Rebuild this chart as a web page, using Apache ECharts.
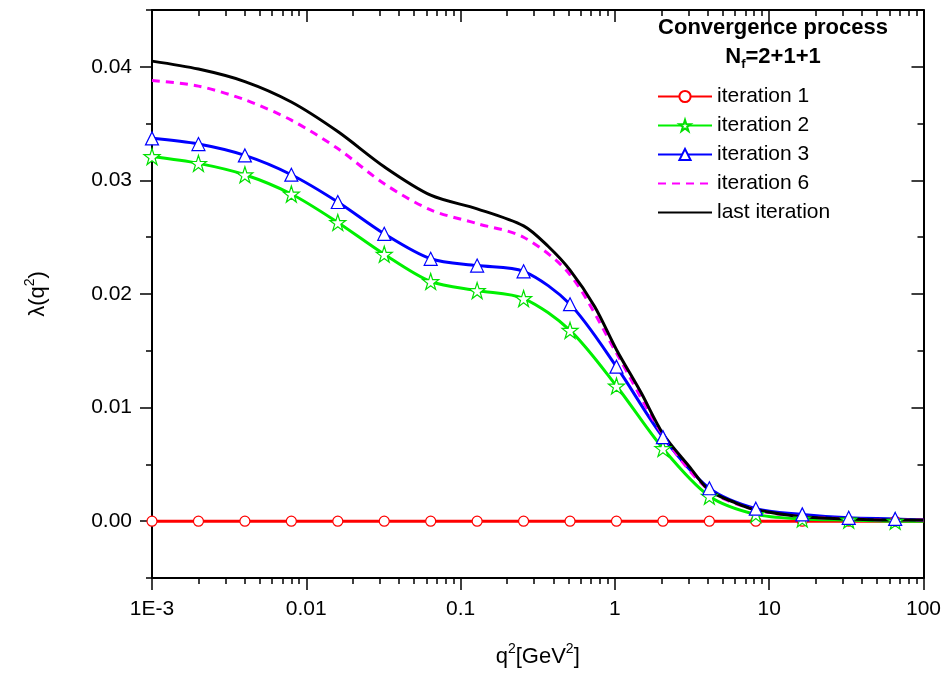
<!DOCTYPE html>
<html>
<head>
<meta charset="utf-8">
<script src="https://cdn.jsdelivr.net/npm/echarts@6/dist/echarts.min.js"></script>
<style>html,body{margin:0;padding:0;background:#fff}#c{width:944px;height:677px}</style>
</head>
<body>
<div id="c"></div>
<script>
// q^2 grid of the marked points (GeV^2), last entry is the axis end
const qGrid = [0.001,0.002,0.004,0.008,0.016,0.032,0.064,0.128,0.256,0.512,1.024,2.048,4.096,8.192,16.384,32.768,65.536,100];
const iter1 = [0,0,0,0,0,0,0,0,0,0,0,0,0,0,0,0,0,0];
const iter2 = [0.0321,0.0315,0.0305,0.0288,0.0263,0.0235,0.0211,0.0203,0.0196,0.0168,0.0119,0.0064,0.0022,0.0006,0.0002,0.0001,0.0000,0.0000];
const iter3 = [0.0337,0.0332,0.0322,0.0305,0.0281,0.0253,0.0231,0.0225,0.0220,0.0191,0.0136,0.0074,0.0029,0.0011,0.0006,0.0003,0.0002,0.0001];
const iter6 = [0.0388,0.0383,0.0371,0.0353,0.0328,0.0297,0.0274,0.0262,0.0250,0.0217,0.0148,0.0076,0.0027,0.0010,0.0004,0.0002,0.0001,0.0001];
const qLast = [0.001,0.002,0.004,0.008,0.016,0.032,0.064,0.128,0.256,0.369,0.512,0.739,1.024,1.48,2.048,3.04,4.096,6.09,8.192,16.384,32.768,65.536,100];
const iterLast = [0.0405,0.0398,0.0387,0.0369,0.0343,0.0312,0.0287,0.0275,0.0260,0.0242,0.0221,0.0189,0.0151,0.0113,0.0077,0.0048,0.0027,0.0016,0.0010,0.0004,0.0002,0.0001,0.0001];
const seriesNames = ['iteration 1','iteration 2','iteration 3','iteration 6','last iteration'];
const yMajor = [0,0.01,0.02,0.03,0.04];
const yMinor = [-0.005,0.005,0.015,0.025,0.035,0.045];
const xMinor = [];
[0.001,0.01,0.1,1,10].forEach(d => { for (let k = 2; k <= 9; k++) xMinor.push(+(d*k).toPrecision(3)); });

const FONT = '"Liberation Sans", Arial, sans-serif';
const STAR = 'path://M50,2 L61.8,37.6 L99,37.6 L68.9,59.6 L80.4,95.1 L50,73.2 L19.6,95.1 L31.1,59.6 L1,37.6 L38.2,37.6 Z';

function pairs(xs, ys, markedCount) {
  return xs.map((x, i) => i < markedCount ? [x, ys[i]] : {value: [x, ys[i]], symbol: 'none'});
}

function xLabel(v) {
  const e = Math.round(Math.log10(v));
  if (e === -3) return '1E-3';
  if (e < 0) return (Math.pow(10, e)).toFixed(-e);
  return String(Math.pow(10, e));
}

const axisLine = {show: true, onZero: false, lineStyle: {color: '#000', width: 2}};
const noLine = {show: false, onZero: false};
const chart = echarts.init(document.getElementById('c'), null, {renderer: 'canvas'});
chart.setOption({
  backgroundColor: '#fff',
  animation: false,
  textStyle: {fontFamily: FONT},
  grid: {left: 152, right: 19, top: 10, bottom: 99},
  graphic: [{
    type: 'text', x: 773, y: 13, z: 100,
    style: {
      text: '{t|Convergence process}\n{t|N}{s|f}{t|=2+1+1}',
      align: 'center', verticalAlign: 'top', fontFamily: FONT,
      rich: {
        t: {fontSize: 22, fontWeight: 'bold', lineHeight: 29, fontFamily: FONT, fill: '#000'},
        s: {fontSize: 13, fontWeight: 'bold', lineHeight: 12, verticalAlign: 'bottom', fontFamily: FONT, fill: '#000'}
      }
    }
  }],
  legend: {
    orient: 'vertical', left: 652, top: 81,
    itemWidth: 54, itemHeight: 14, itemGap: 8,
    textStyle: {fontSize: 21, color: '#000', fontFamily: FONT},
    data: [
      {name: seriesNames[0]}, {name: seriesNames[1]}, {name: seriesNames[2]},
      {name: seriesNames[3], itemStyle: {opacity: 0}},
      {name: seriesNames[4], itemStyle: {opacity: 0}}
    ]
  },
  xAxis: [
    {type: 'log', logBase: 10, min: 0.001, max: 100, position: 'bottom',
     axisLine: axisLine, axisTick: {show: true, inside: false, length: 12, lineStyle: {color: '#000', width: 1.5}},
     axisLabel: {formatter: xLabel, fontSize: 21, color: '#000', margin: 21, fontFamily: FONT},
     splitLine: {show: false},
     name: '{a|q}{b|2}{a|[GeV}{b|2}{a|]}', nameLocation: 'middle', nameGap: 64,
     nameTextStyle: {rich: {a: {fontSize: 22, lineHeight: 30, color: '#000', fontFamily: FONT}, b: {fontSize: 14, lineHeight: 14, verticalAlign: 'top', color: '#000', fontFamily: FONT}}}},
    {type: 'log', logBase: 10, min: 0.001, max: 100, position: 'bottom',
     axisLine: noLine, axisLabel: {show: false}, splitLine: {show: false},
     axisTick: {show: true, inside: false, length: 6, customValues: xMinor, lineStyle: {color: '#000', width: 1.5}}},
    {type: 'log', logBase: 10, min: 0.001, max: 100, position: 'top',
     axisLine: axisLine, axisLabel: {show: false}, splitLine: {show: false},
     axisTick: {show: true, inside: true, length: 12, lineStyle: {color: '#000', width: 1.5}}},
    {type: 'log', logBase: 10, min: 0.001, max: 100, position: 'top',
     axisLine: noLine, axisLabel: {show: false}, splitLine: {show: false},
     axisTick: {show: true, inside: true, length: 6, customValues: xMinor, lineStyle: {color: '#000', width: 1.5}}}
  ],
  yAxis: [
    {type: 'value', min: -0.005, max: 0.045, position: 'left',
     axisLine: axisLine, splitLine: {show: false},
     axisTick: {show: true, inside: false, length: 12, customValues: yMajor, lineStyle: {color: '#000', width: 1.5}},
     axisLabel: {customValues: yMajor, formatter: v => v.toFixed(2), fontSize: 21, color: '#000', margin: 20, fontFamily: FONT},
     name: '{a|λ(q}{b|2}{a|)}', nameLocation: 'middle', nameGap: 99,
     nameTextStyle: {rich: {a: {fontSize: 22, lineHeight: 30, color: '#000', fontFamily: FONT}, b: {fontSize: 14, lineHeight: 14, verticalAlign: 'top', color: '#000', fontFamily: FONT}}}},
    {type: 'value', min: -0.005, max: 0.045, position: 'left',
     axisLine: noLine, splitLine: {show: false}, axisLabel: {show: false},
     axisTick: {show: true, inside: false, length: 6, customValues: yMinor, lineStyle: {color: '#000', width: 1.5}}},
    {type: 'value', min: -0.005, max: 0.045, position: 'right',
     axisLine: axisLine, splitLine: {show: false}, axisLabel: {show: false},
     axisTick: {show: true, inside: true, length: 12, customValues: yMajor, lineStyle: {color: '#000', width: 1.5}}},
    {type: 'value', min: -0.005, max: 0.045, position: 'right',
     axisLine: noLine, splitLine: {show: false}, axisLabel: {show: false},
     axisTick: {show: true, inside: true, length: 6, customValues: yMinor, lineStyle: {color: '#000', width: 1.5}}}
  ],
  series: [
    {name: seriesNames[0], type: 'line', data: pairs(qGrid, iter1, 17), smooth: 0.3,
     symbol: 'circle', symbolSize: 10, showAllSymbol: true,
     lineStyle: {color: '#ff0000', width: 3}, itemStyle: {color: '#ffffff', borderColor: '#ff0000', borderWidth: 1.2}},
    {name: seriesNames[1], type: 'line', data: pairs(qGrid, iter2, 17), smooth: 0.3,
     symbol: STAR, symbolSize: 16, showAllSymbol: true,
     lineStyle: {color: '#00f000', width: 3}, itemStyle: {color: '#ffffff', borderColor: '#00e000', borderWidth: 1.2}},
    {name: seriesNames[2], type: 'line', data: pairs(qGrid, iter3, 17), smooth: 0.3,
     symbol: 'triangle', symbolSize: 13, showAllSymbol: true,
     lineStyle: {color: '#0000ff', width: 3}, itemStyle: {color: '#ffffff', borderColor: '#0000ff', borderWidth: 1.2}},
    {name: seriesNames[3], type: 'line', data: pairs(qGrid, iter6, 0), smooth: 0.3,
     symbol: 'none',
     lineStyle: {color: '#ff00ff', width: 3, type: [8, 6]}, itemStyle: {color: '#ff00ff'}},
    {name: seriesNames[4], type: 'line', data: pairs(qLast, iterLast, 0), smooth: 0.3,
     symbol: 'none',
     lineStyle: {color: '#000000', width: 3}, itemStyle: {color: '#000000'}}
  ]
});
</script>
</body>
</html>
